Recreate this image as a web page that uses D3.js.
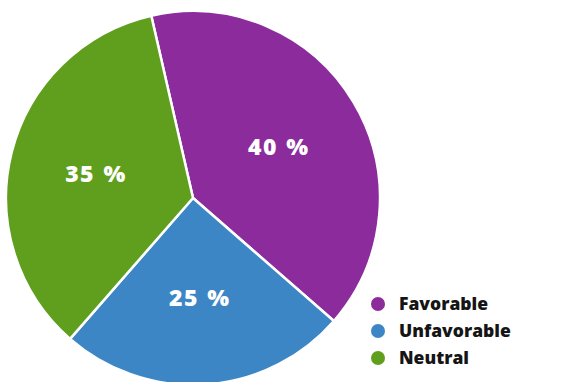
<!DOCTYPE html>
<html>
<head>
<meta charset="utf-8">
<script src="https://cdn.jsdelivr.net/npm/d3@7"></script>
<style>
  body { margin: 0; background: #fff; }
  svg { display: block; }
</style>
</head>
<body>
<svg width="575" height="382"></svg>
<script>
// data
var categories = ['Favorable', 'Unfavorable', 'Neutral'];
var shares = [40, 25, 35];
var labels = ['40 %', '25 %', '35 %'];
var colors = ['#8b2b9c', '#3d86c6', '#5f9f1d'];

var svg = d3.select('svg'),
    cx = 193,
    cy = 198,
    radius = 187;

var pie = d3.pie()
    .sort(null)
    .startAngle(-0.225)
    .endAngle(-0.225 + 2 * Math.PI);

var arcs = pie(shares);

var arc = d3.arc()
    .innerRadius(0)
    .outerRadius(radius);

var labelArc = d3.arc()
    .innerRadius(100)
    .outerRadius(100);

var g = svg.append('g')
    .attr('transform', 'translate(' + cx + ',' + cy + ')');

g.selectAll('path')
    .data(arcs)
    .enter().append('path')
    .attr('d', arc)
    .attr('fill', function(d, i) { return colors[i]; })
    .attr('stroke', '#fff')
    .attr('stroke-width', 2.5)
    .attr('stroke-linejoin', 'round');

g.selectAll('text')
    .data(arcs)
    .enter().append('text')
    .attr('transform', function(d) { return 'translate(' + labelArc.centroid(d) + ')'; })
    .attr('text-anchor', 'middle')
    .attr('dy', '0.36em')
    .style('font-family', '"Open Sans", sans-serif')
    .style('font-weight', '800')
    .style('font-size', '23px')
    .style('letter-spacing', '1.5px')
    .style('word-spacing', '1px')
    .attr('fill', '#fff')
    .text(function(d, i) { return labels[i]; });

// legend
var legend = svg.append('g')
    .attr('transform', 'translate(378,304)');

var row = legend.selectAll('g')
    .data(categories)
    .enter().append('g')
    .attr('transform', function(d, i) { return 'translate(0,' + (i * 27) + ')'; });

row.append('circle')
    .attr('r', 7)
    .attr('fill', function(d, i) { return colors[i]; });

row.append('text')
    .attr('x', 21)
    .attr('dy', '0.36em')
    .style('font-family', '"Open Sans", sans-serif')
    .style('font-weight', '800')
    .style('font-size', '17.5px')
    .attr('fill', '#151515')
    .text(function(d) { return d; });
</script>
</body>
</html>
